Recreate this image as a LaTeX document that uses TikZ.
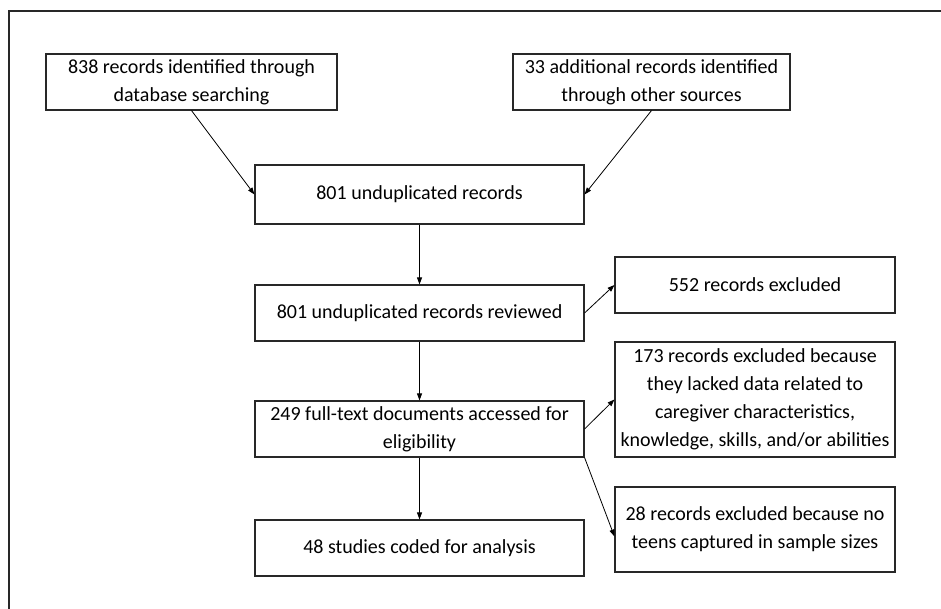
\documentclass[tikz,border=0pt]{standalone}
\usepackage{fontspec}
\setmainfont{Carlito}
\usepackage{tikz}
\usetikzlibrary{positioning, arrows.meta}
\tikzstyle{flowChart} = [x = 1pt, y = -1pt]
\definecolor{boxColor}{RGB}{40,40,40}
\tikzstyle{boxStyle} = [draw=boxColor, line width=1.1pt, align=center, inner sep=0pt, font=\fontsize{20}{28}\selectfont]
\tikzstyle{arrowStyle} = [draw=black, line width=0.8pt, -{Triangle[length=7pt, width=5pt]}]
\tikzstyle{frameLine} = [draw=boxColor, line width=1.1pt]
\newcommand{\flowBox}[6]{\node [boxStyle, minimum width=#4, minimum height=#5] (#1) at (#2, #3) {#6};}
\begin{document}
\begin{tikzpicture}[flowChart]
  \useasboundingbox (0,0) rectangle (941,609);
  % frame
  \draw [frameLine] (9,609) -- (9,11) -- (941,11);

  % identification
  \flowBox{database}{191.5}{82}{291pt}{56pt}{838 records identified through\\database searching}
  \flowBox{otherSources}{651.5}{82}{277pt}{56pt}{33 additional records identified\\through other sources}
  \flowBox{unduplicated}{419.5}{194.5}{329pt}{59pt}{801 unduplicated records}

  % screening
  \flowBox{reviewed}{419.5}{313}{329pt}{56pt}{801 unduplicated records reviewed}
  \flowBox{excluded}{755}{285}{280pt}{56pt}{552 records excluded}

  % eligibility
  \flowBox{fullText}{419.5}{429}{329pt}{56pt}{249 full-text documents accessed for\\eligibility}
  \flowBox{lackedData}{755}{399.5}{280pt}{115pt}{173 records excluded because\\they lacked data related to\\caregiver characteristics,\\knowledge, skills, and/or abilities}
  \flowBox{noTeens}{755}{529.5}{280pt}{85pt}{28 records excluded because no\\teens captured in sample sizes}

  % included
  \flowBox{coded}{419.5}{548}{329pt}{56pt}{48 studies coded for analysis}

  \draw [arrowStyle] (database.south) -- (unduplicated.west);
  \draw [arrowStyle] (otherSources.south) -- (unduplicated.east);
  \draw [arrowStyle] (unduplicated) -- (reviewed);
  \draw [arrowStyle] (reviewed.east) -- (excluded.west);
  \draw [arrowStyle] (reviewed) -- (fullText);
  \draw [arrowStyle] (fullText.east) -- (lackedData.west);
  \draw [arrowStyle] (fullText.south east) -- ([yshift=-7pt]noTeens.west);
  \draw [arrowStyle] (fullText) -- (coded);
\end{tikzpicture}
\end{document}
